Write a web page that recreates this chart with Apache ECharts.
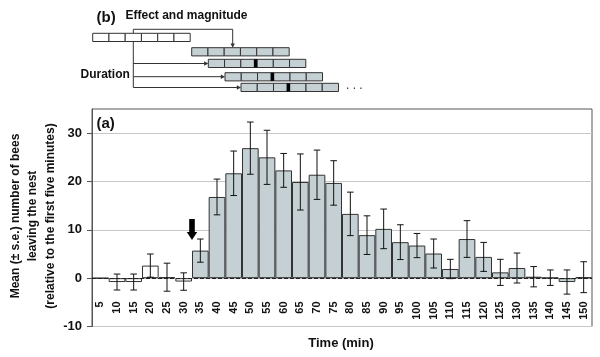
<!DOCTYPE html>
<html><head><meta charset="utf-8">
<script src="https://cdn.jsdelivr.net/npm/echarts@6/dist/echarts.min.js"></script>
<style>html,body{margin:0;padding:0;background:#fff}#c{width:600px;height:357px}</style>
</head><body><div id="c"></div>
<script>
const categories = ['5','10','15','20','25','30','35','40','45','50','55','60','65','70','75','80','85','90','95','100','105','110','115','120','125','130','135','140','145','150'];
const meanValues = [0,-0.8,-0.8,2.6,0.2,-0.7,5.7,16.8,21.7,26.9,25.0,22.3,19.9,21.4,19.7,13.3,8.9,10.2,7.45,6.75,5.1,1.9,8.1,4.4,1.2,2.1,0.3,0.1,-0.8,0.2];
const seValues   = [0,1.65,1.65,2.4,2.9,1.8,2.4,3.7,4.6,5.4,5.6,3.5,5.8,5.1,4.6,4.5,4.0,4.1,3.6,2.5,3.0,2.0,3.8,3.0,2.7,3.1,2.1,1.6,2.5,3.2];
const yTickValues = [-10,0,10,20,30];
const firstTreatedCategory = '35';
const arrowTipValue = 7.9;

const FONT = "'Liberation Sans', Arial, sans-serif";
const GRAY = '#c4d0d4';
const chart = echarts.init(document.getElementById('c'), null, {renderer:'canvas'});
const treatedIdx = categories.indexOf(firstTreatedCategory);

const errData = categories.map((c,i)=>[i, meanValues[i]-seValues[i], meanValues[i]+seValues[i]]);

// diagram (b)
const diag = [];
const rows = [
  {x:92.7, y:33.3, fill:'#fff', marker:false},
  {x:191.7, y:47.7, fill:GRAY, marker:false},
  {x:208.3, y:59.3, fill:GRAY, marker:true},
  {x:225, y:72.7, fill:GRAY, marker:true},
  {x:241, y:83.3, fill:GRAY, marker:true}
];
const bw = 16.25, bh = 8.2;
rows.forEach(r=>{
  for(let k=0;k<6;k++){
    diag.push({type:'rect', shape:{x:r.x+k*bw, y:r.y, width:bw, height:bh}, style:{fill:r.fill, stroke:'#333', lineWidth:1}});
  }
  if(r.marker){
    diag.push({type:'rect', shape:{x:r.x+3*bw-3.2, y:r.y, width:3.4, height:bh}, style:{fill:'#000'}});
  }
});
const lineStyle = {stroke:'#333', lineWidth:1, fill:null};
diag.push({type:'polyline', shape:{points:[[133.3,33.3],[133.3,29.3],[232.7,29.3],[232.7,44]]}, style:lineStyle});
diag.push({type:'polygon', shape:{points:[[232.7,47.7],[230.5,43.5],[234.9,43.5]]}, style:{fill:'#333'}});
diag.push({type:'polyline', shape:{points:[[133.3,41.5],[133.3,87.5]]}, style:lineStyle});
[[63.5,208.3],[76.7,225],[87.5,241]].forEach(([y,x])=>{
  diag.push({type:'polyline', shape:{points:[[133.3,y],[x-3.5,y]]}, style:lineStyle});
  diag.push({type:'polygon', shape:{points:[[x,y],[x-4.2,y-2.2],[x-4.2,y+2.2]]}, style:{fill:'#333'}});
});
diag.push({type:'text', x:96.5, y:18, style:{text:'(b)', font:'bold 15px '+FONT, fill:'#111', verticalAlign:'middle'}});
diag.push({type:'text', x:125.5, y:16, style:{text:'Effect and magnitude', font:'bold 12px '+FONT, fill:'#111', verticalAlign:'middle'}});
diag.push({type:'text', x:80.5, y:75, style:{text:'Duration', font:'bold 12px '+FONT, fill:'#111', verticalAlign:'middle'}});
diag.push({type:'text', x:346, y:86, style:{text:'. . .', font:'12px '+FONT, fill:'#333', verticalAlign:'middle'}});
diag.push({type:'text', x:96.5, y:124, style:{text:'(a)', font:'bold 15px '+FONT, fill:'#111', verticalAlign:'middle'}});
diag.push({type:'text', x:33, y:216, rotation:Math.PI/2, style:{text:'Mean (± s.e.) number of bees\nleaving the nest\n(relative to the first five minutes)', font:'bold 12px '+FONT, fill:'#111', align:'center', verticalAlign:'middle', lineHeight:17.5}});
diag.push({type:'text', x:341, y:343, style:{text:'Time (min)', font:'bold 13px '+FONT, fill:'#111', align:'center', verticalAlign:'middle'}});

chart.setOption({
  animation:false,
  grid:{left:92, top:109, width:500, height:217.5, show:true, borderColor:'#555', borderWidth:1, backgroundColor:'transparent'},
  xAxis:{
    type:'category', data:categories, position:'bottom', offset:-27,
    axisLine:{show:false, onZero:false}, axisTick:{show:false},
    axisLabel:{rotate:90, margin:2, interval:0, fontSize:11, fontWeight:'bold', color:'#111', fontFamily:FONT}
  },
  yAxis:{
    type:'value', min:-10, max:35, interval:10,
    axisLine:{show:true, lineStyle:{color:'#555'}},
    axisTick:{show:true, length:5, lineStyle:{color:'#555'}, customValues:yTickValues},
    axisLabel:{fontSize:13, fontWeight:'bold', color:'#111', margin:10, fontFamily:FONT, customValues:yTickValues},
    splitLine:{show:true, lineStyle:{color:'#c8c8c8', width:1}}
  },
  series:[
    {
      type:'bar', data:meanValues, barCategoryGap:'0%', z:2,
      itemStyle:{color:(p)=>p.dataIndex>=treatedIdx?GRAY:'#fff', borderColor:'#333', borderWidth:1},
      markLine:{silent:true, symbol:'none', label:{show:false}, lineStyle:{color:'#222', type:'dashed', width:1}, data:[{yAxis:0}]}
    },
    {
      type:'custom', data:errData, z:3,
      renderItem:(params, api)=>{
        const i = api.value(0), lo = api.value(1), hi = api.value(2);
        if (hi === lo) return null;
        const pt = api.coord([i, hi]), pb = api.coord([i, lo]);
        const hw = 3.3, st = {stroke:'#111', lineWidth:1};
        return {type:'group', children:[
          {type:'line', shape:{x1:pt[0], y1:pt[1], x2:pb[0], y2:pb[1]}, style:st},
          {type:'line', shape:{x1:pt[0]-hw, y1:pt[1], x2:pt[0]+hw, y2:pt[1]}, style:st},
          {type:'line', shape:{x1:pb[0]-hw, y1:pb[1], x2:pb[0]+hw, y2:pb[1]}, style:st}
        ]};
      }
    }
  ],
  graphic: diag
});

// arrow marking start of treatment
const xa = chart.convertToPixel({xAxisIndex:0}, treatedIdx-1);
const xb = chart.convertToPixel({xAxisIndex:0}, treatedIdx);
const tx = (xa+xb)/2, ty = chart.convertToPixel({yAxisIndex:0}, arrowTipValue);
diag.push({type:'polygon', z:10, shape:{points:[[tx,ty],[tx-5.2,ty-8],[tx-2.8,ty-8],[tx-2.8,ty-21],[tx+2.8,ty-21],[tx+2.8,ty-8],[tx+5.2,ty-8]]}, style:{fill:'#000'}});
chart.setOption({graphic: diag}, {replaceMerge:['graphic']});
</script></body></html>
